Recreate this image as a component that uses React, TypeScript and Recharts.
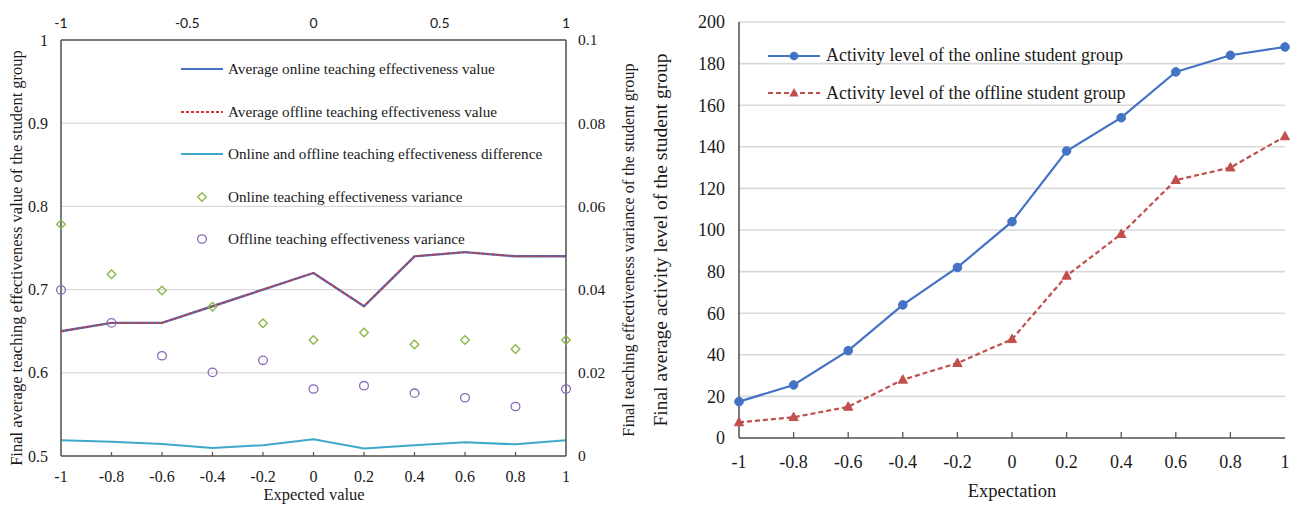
import React from 'react';
import { ComposedChart, Line, XAxis, YAxis, CartesianGrid, Legend } from 'recharts';

// ---------- Left chart data ----------
const expectedValues = [-1, -0.8, -0.6, -0.4, -0.2, 0, 0.2, 0.4, 0.6, 0.8, 1];
const topTicks = [-1, -0.5, 0, 0.5, 1];
const leftYTicks = [0.5, 0.6, 0.7, 0.8, 0.9, 1];
const rightYTicks = [0, 0.02, 0.04, 0.06, 0.08, 0.1];
const avgOnline = [0.65, 0.66, 0.66, 0.68, 0.7, 0.72, 0.68, 0.74, 0.745, 0.74, 0.74];
const avgOffline = [0.65, 0.66, 0.66, 0.68, 0.7, 0.72, 0.68, 0.74, 0.745, 0.74, 0.74];
const effDifference = [0.0038, 0.0034, 0.0029, 0.0019, 0.0026, 0.004, 0.0018, 0.0026, 0.0033, 0.0028, 0.0038];
const onlineVariance = [0.0557, 0.0437, 0.0398, 0.0359, 0.0319, 0.0279, 0.0297, 0.0268, 0.0279, 0.0257, 0.0279];
const offlineVariance = [0.0399, 0.032, 0.0241, 0.0201, 0.023, 0.0161, 0.0169, 0.0151, 0.014, 0.0119, 0.0161];

// ---------- Right chart data ----------
const expectations = [-1, -0.8, -0.6, -0.4, -0.2, 0, 0.2, 0.4, 0.6, 0.8, 1];
const activityTicks = [0, 20, 40, 60, 80, 100, 120, 140, 160, 180, 200];
const activityOnline = [17.5, 25.5, 42, 64, 82, 104, 138, 154, 176, 184, 188];
const activityOffline = [7.5, 10, 15, 28, 36, 47.5, 78, 98, 124, 130, 145];

const leftData = expectedValues.map((x, i) => ({
  x,
  avgOnline: avgOnline[i],
  avgOffline: avgOffline[i],
  diff: effDifference[i],
  onVar: onlineVariance[i],
  offVar: offlineVariance[i],
}));

const rightData = expectations.map((x, i) => ({
  x,
  online: activityOnline[i],
  offline: activityOffline[i],
}));

const SERIF = '"Liberation Serif", "Times New Roman", serif';
const SANS = 'Lato, "Open Sans", sans-serif';
const AXIS = '#595959';
const GRID = '#d9d9d9';
const TEXT = '#1a1a1a';

const BLUE = '#4472C4';
const RED_L = '#D9342B';
const RED_R = '#C0504D';
const CYAN = '#3FA9CC';
const GREEN = '#8DB94A';
const PURPLE = '#8A6AB8';

const fmt = (v: number) => String(v);

type XTickOpts = { size: number; family: string; offset: number; len: number; ends: number[] };
const xTick = (o: XTickOpts) => (p: any) => {
  const { x, y, payload } = p;
  const v = payload.value;
  const showLine = o.len !== 0 && !o.ends.includes(v);
  return (
    <g>
      {showLine && <line x1={x} x2={x} y1={y} y2={y - o.len} stroke={AXIS} strokeWidth={1.3} />}
      <text x={x} y={y + o.offset} dy="0.35em" textAnchor="middle" fontSize={o.size} fontFamily={o.family} fill={TEXT}>
        {fmt(v)}
      </text>
    </g>
  );
};

type YTickOpts = { size: number; family: string; offset: number; anchor: 'start' | 'end' };
const yTick = (o: YTickOpts) => (p: any) => (
  <text x={p.x + o.offset} y={p.y} dy="0.35em" textAnchor={o.anchor} fontSize={o.size} fontFamily={o.family} fill={TEXT}>
    {fmt(p.payload.value)}
  </text>
);

const HTitle = ({ value, cx, cy, size }: any) => (
  <text x={cx} y={cy} dy="0.35em" textAnchor="middle" fontSize={size} fontFamily={SERIF} fill={TEXT}>
    {value}
  </text>
);

const VTitle = ({ value, cx, cy, size }: any) => (
  <text
    x={cx}
    y={cy}
    dy="0.35em"
    textAnchor="middle"
    fontSize={size}
    fontFamily={SERIF}
    fill={TEXT}
    transform={`rotate(-90 ${cx} ${cy})`}
  >
    {value}
  </text>
);

const diamondDot = (p: any) => {
  const { cx, cy, index } = p;
  const r = 4.3;
  return (
    <path
      key={`dm-${index}`}
      d={`M${cx},${cy - r} L${cx + r},${cy} L${cx},${cy + r} L${cx - r},${cy} Z`}
      fill="none"
      stroke={GREEN}
      strokeWidth={1.4}
    />
  );
};

const circleDot = (p: any) => {
  const { cx, cy, index } = p;
  return <ellipse key={`ci-${index}`} cx={cx} cy={cy} rx={4.4} ry={4.2} fill="none" stroke={PURPLE} strokeWidth={1.3} />;
};

const filledCircle = (p: any) => {
  const { cx, cy, index } = p;
  return <circle key={`fc-${index}`} cx={cx} cy={cy} r={4.3} fill={BLUE} stroke={BLUE} strokeWidth={1} />;
};

const triangleDot = (p: any) => {
  const { cx, cy, index } = p;
  return (
    <path
      key={`tr-${index}`}
      d={`M${cx},${cy - 5} L${cx + 4.6},${cy + 3.4} L${cx - 4.6},${cy + 3.4} Z`}
      fill={RED_R}
      stroke={RED_R}
      strokeWidth={1}
    />
  );
};

const leftLegendItems = [
  { name: 'Average online teaching effectiveness value', kind: 'solid', color: BLUE },
  { name: 'Average offline teaching effectiveness value', kind: 'dash', color: RED_L },
  { name: 'Online and offline teaching effectiveness difference', kind: 'solid', color: CYAN },
  { name: 'Online teaching effectiveness variance', kind: 'diamond', color: GREEN },
  { name: 'Offline teaching effectiveness variance', kind: 'circle', color: PURPLE },
];

const rightLegendItems = [
  { name: 'Activity level of the online student group', kind: 'solidDot', color: BLUE },
  { name: 'Activity level of the offline student group', kind: 'dashTri', color: RED_R },
];

const LeftLegend = () => (
  <div style={{ fontFamily: SERIF, fontSize: 15.2, color: TEXT }}>
    {leftLegendItems.map((it) => (
      <div key={it.name} style={{ height: 42.5, display: 'flex', alignItems: 'center', whiteSpace: 'nowrap' }}>
        <svg width={47} height={12}>
          {it.kind === 'solid' && <line x1={0} x2={42} y1={6} y2={6} stroke={it.color} strokeWidth={2} />}
          {it.kind === 'dash' && <line x1={0} x2={42} y1={6} y2={6} stroke={it.color} strokeWidth={2} strokeDasharray="3 2" />}
          {it.kind === 'diamond' && <path d="M21,1.7 L25.3,6 L21,10.3 L16.7,6 Z" fill="none" stroke={it.color} strokeWidth={1.4} />}
          {it.kind === 'circle' && <ellipse cx={21} cy={6} rx={4.4} ry={4.2} fill="none" stroke={it.color} strokeWidth={1.3} />}
        </svg>
        <span>{it.name}</span>
      </div>
    ))}
  </div>
);

const RightLegend = () => (
  <div style={{ fontFamily: SERIF, fontSize: 18, color: TEXT }}>
    {rightLegendItems.map((it) => (
      <div key={it.name} style={{ height: 37.5, display: 'flex', alignItems: 'center', whiteSpace: 'nowrap' }}>
        <svg width={58} height={14}>
          {it.kind === 'solidDot' && (
            <g>
              <line x1={0} x2={52} y1={7} y2={7} stroke={it.color} strokeWidth={2.2} />
              <circle cx={26} cy={7} r={4.3} fill={it.color} />
            </g>
          )}
          {it.kind === 'dashTri' && (
            <g>
              <line x1={0} x2={52} y1={7} y2={7} stroke={it.color} strokeWidth={2.2} strokeDasharray="5 3" />
              <path d="M26,2 L30.6,10.4 L21.4,10.4 Z" fill={it.color} />
            </g>
          )}
        </svg>
        <span>{it.name}</span>
      </div>
    ))}
  </div>
);

export default function App() {
  return (
    <div style={{ position: 'absolute', left: 0, top: 0, width: 1295, height: 505, background: '#fff', overflow: 'hidden' }}>
      <div style={{ position: 'absolute', left: 0, top: 0 }}>
        <ComposedChart width={640} height={505} data={leftData} margin={{ top: 0, right: 0, bottom: 0, left: 0 }}>
          <CartesianGrid xAxisId="B" yAxisId="L" vertical={false} stroke={GRID} strokeWidth={1.3} />
          <XAxis
            xAxisId="B"
            dataKey="x"
            type="number"
            domain={[-1, 1]}
            ticks={expectedValues}
            interval={0}
            height={49}
            tickSize={0}
            tickMargin={0}
            tickLine={false}
            axisLine={{ stroke: AXIS, strokeWidth: 1.6 }}
            tick={xTick({ size: 16, family: SERIF, offset: 20, len: 4, ends: [-1, 1] })}
            label={<HTitle value="Expected value" cx={314} cy={494} size={16.5} />}
          />
          <XAxis
            xAxisId="T"
            dataKey="x"
            orientation="top"
            type="number"
            domain={[-1, 1]}
            allowDataOverflow
            ticks={topTicks}
            interval={0}
            height={40}
            tickSize={0}
            tickMargin={0}
            tickLine={false}
            axisLine={{ stroke: AXIS, strokeWidth: 1.6 }}
            tick={xTick({ size: 14, family: SANS, offset: -17, len: 0, ends: [] })}
          />
          <YAxis
            yAxisId="L"
            type="number"
            domain={[0.5, 1]}
            ticks={leftYTicks}
            interval={0}
            width={61}
            tickSize={0}
            tickMargin={0}
            tickLine={false}
            axisLine={{ stroke: AXIS, strokeWidth: 1.6 }}
            tick={yTick({ size: 16, family: SERIF, offset: -13, anchor: 'end' })}
            label={<VTitle value="Final average teaching effectiveness value of the student group" cx={16} cy={258} size={16.5} />}
          />
          <YAxis
            yAxisId="R"
            orientation="right"
            type="number"
            domain={[0, 0.1]}
            ticks={rightYTicks}
            interval={0}
            width={74}
            tickSize={0}
            tickMargin={0}
            tickLine={false}
            axisLine={{ stroke: AXIS, strokeWidth: 1.6 }}
            tick={yTick({ size: 15.5, family: SERIF, offset: 12, anchor: 'start' })}
            label={<VTitle value="Final teaching effectiveness variance of the student group" cx={628} cy={250} size={16.2} />}
          />
          <Legend
            layout="vertical"
            align="center"
            verticalAlign="middle"
            width={440}
            wrapperStyle={{ left: 181, top: 47.75 }}
            content={() => <LeftLegend />}
          />
          <Line xAxisId="B" yAxisId="R" dataKey="diff" stroke={CYAN} strokeWidth={2} dot={false} activeDot={false} isAnimationActive={false} />
          <Line xAxisId="B" yAxisId="L" dataKey="avgOnline" stroke={BLUE} strokeWidth={2.4} dot={false} activeDot={false} isAnimationActive={false} />
          <Line
            xAxisId="B"
            yAxisId="L"
            dataKey="avgOffline"
            stroke={RED_L}
            strokeWidth={1.6}
            strokeDasharray="3 2"
            dot={false}
            activeDot={false}
            isAnimationActive={false}
          />
          <Line xAxisId="B" yAxisId="R" dataKey="onVar" stroke="none" dot={diamondDot} activeDot={false} isAnimationActive={false} />
          <Line xAxisId="B" yAxisId="R" dataKey="offVar" stroke="none" dot={circleDot} activeDot={false} isAnimationActive={false} />
        </ComposedChart>
      </div>
      <div style={{ position: 'absolute', left: 640, top: 0 }}>
        <ComposedChart width={655} height={505} data={rightData} margin={{ top: 22, right: 10, bottom: 0, left: 0 }}>
          <CartesianGrid xAxisId="B" yAxisId="L" vertical={false} stroke={GRID} strokeWidth={1.6} />
          <XAxis
            xAxisId="B"
            dataKey="x"
            type="number"
            domain={[-1, 1]}
            ticks={expectations}
            interval={0}
            height={67}
            tickSize={0}
            tickMargin={0}
            tickLine={false}
            axisLine={{ stroke: AXIS, strokeWidth: 1.6 }}
            tick={xTick({ size: 18, family: SERIF, offset: 24, len: 6, ends: [-1, 1] })}
            label={<HTitle value="Expectation" cx={372} cy={491} size={18.5} />}
          />
          <XAxis
            xAxisId="T"
            dataKey="x"
            orientation="top"
            type="number"
            domain={[-1, 1]}
            height={0}
            tick={false}
            tickLine={false}
            axisLine={{ stroke: AXIS, strokeWidth: 1.6 }}
          />
          <YAxis
            yAxisId="L"
            type="number"
            domain={[0, 200]}
            ticks={activityTicks}
            interval={0}
            width={99}
            tickSize={0}
            tickMargin={0}
            tickLine={false}
            axisLine={{ stroke: AXIS, strokeWidth: 1.6 }}
            tick={yTick({ size: 18, family: SERIF, offset: -14, anchor: 'end' })}
            label={<VTitle value="Final average activity level of the student group" cx={20} cy={240} size={19.5} />}
          />
          <YAxis
            yAxisId="R"
            orientation="right"
            type="number"
            domain={[0, 1]}
            width={0}
            tick={false}
            tickLine={false}
            axisLine={{ stroke: AXIS, strokeWidth: 1.6 }}
          />
          <Legend
            layout="vertical"
            align="center"
            verticalAlign="middle"
            width={420}
            wrapperStyle={{ left: 128, top: 37 }}
            content={() => <RightLegend />}
          />
          <Line
            xAxisId="B"
            yAxisId="L"
            dataKey="online"
            stroke={BLUE}
            strokeWidth={2.2}
            dot={filledCircle}
            activeDot={false}
            isAnimationActive={false}
          />
          <Line
            xAxisId="B"
            yAxisId="L"
            dataKey="offline"
            stroke={RED_R}
            strokeWidth={2.2}
            strokeDasharray="5 3"
            dot={triangleDot}
            activeDot={false}
            isAnimationActive={false}
          />
        </ComposedChart>
      </div>
    </div>
  );
}
